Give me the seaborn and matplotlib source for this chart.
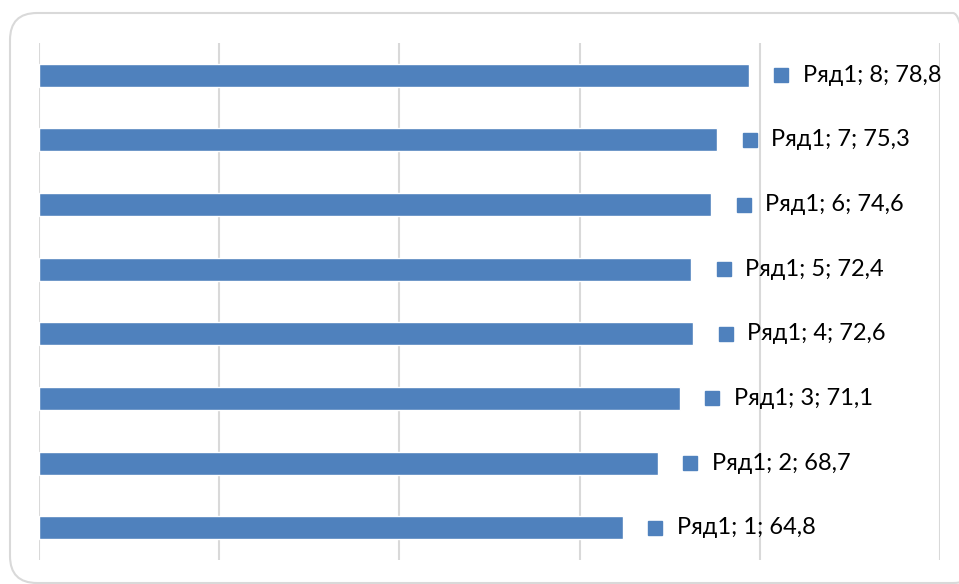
import matplotlib
matplotlib.use("Agg")
import matplotlib.pyplot as plt
import matplotlib.transforms as mtransforms
from matplotlib.patches import FancyBboxPatch
import seaborn as sns
import pandas as pd

categories = ["1", "2", "3", "4", "5", "6", "7", "8"]
values = [64.8, 68.7, 71.1, 72.6, 72.4, 74.6, 75.3, 78.8]
series_name = "Ряд1"
value_labels = ["64,8", "68,7", "71,1", "72,6", "72,4", "74,6", "75,3", "78,8"]

sns.set_theme(style="white")
plt.rcParams['font.family'] = ['Lato', 'DejaVu Sans']

W, H = 959, 584
fig = plt.figure(figsize=(W / 100, H / 100), dpi=100)

# rounded chart border in inches (right side runs past the image edge)
border = FancyBboxPatch((0.10, 0.01), 9.80 - 0.10, 5.71 - 0.01,
                        boxstyle="round,pad=0,rounding_size=0.27",
                        transform=fig.dpi_scale_trans, facecolor="none",
                        edgecolor="#d9d9d9", linewidth=1.5,
                        clip_on=False, zorder=-1)
fig.patches.append(border)

ax = fig.add_axes([39 / W, 1 - 560 / H, (940 - 39) / W, (560 - 43) / H])
ax.patch.set_alpha(0)

df = pd.DataFrame({"cat": categories, "val": values})
order = categories[::-1]
sns.barplot(data=df, x="val", y="cat", order=order, orient="h",
            color="#4F81BD", saturation=1, width=0.355, ax=ax, zorder=3)

ax.set_xlim(0, 100)
ax.set_ylim(7.5, -0.5)
ax.set_xticks([0, 20, 40, 60, 80, 100])
ax.xaxis.grid(True, color="#d9d9d9", linewidth=1.5, zorder=0)
ax.yaxis.grid(False)
ax.set_axisbelow(True)
for s in ax.spines.values():
    s.set_visible(False)
ax.tick_params(left=False, bottom=False, labelleft=False, labelbottom=False)
ax.set_xlabel("")
ax.set_ylabel("")

# data labels with legend key
for i, cat in enumerate(order):
    idx = categories.index(cat)
    v = values[idx]
    off = mtransforms.ScaledTranslation(32.5 / 100, 0, fig.dpi_scale_trans)
    ax.plot([v], [i], marker="s", markersize=15 * 72 / 100 * 0.95,
            color="#4F81BD", transform=ax.transData + off, clip_on=False,
            zorder=4, linestyle="none")
    ax.annotate(f"{series_name}; {cat}; {value_labels[idx]}", xy=(v, i),
                xytext=(54 * 72 / 100, 0), textcoords="offset points",
                ha="left", va="center", fontsize=17, color="black",
                annotation_clip=False)

fig.savefig("out.png", dpi=100)
